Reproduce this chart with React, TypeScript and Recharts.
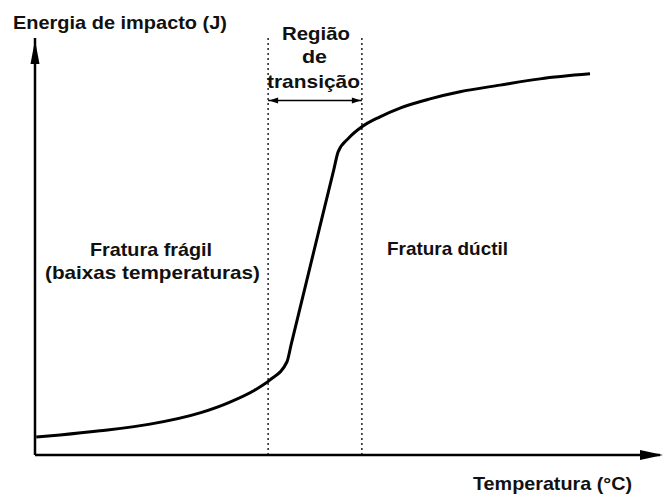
import React from 'react';
import { LineChart, Line, XAxis, YAxis, ReferenceLine, ReferenceDot } from 'recharts';

// Schematic ductile-brittle transition curve (arbitrary units 0-100)
const temperature = [0.2, 4, 10.4, 18.4, 26.4, 31.2, 35.2, 37.6, 40.3, 41.0, 44.4, 47.8, 48.5, 50.2, 52.3, 55.2, 58.4, 63.2, 68, 74.4, 80.8, 88.8];
const energy = [4.3, 4.8, 5.8, 7.4, 10.1, 12.7, 15.6, 18.0, 22.3, 26.6, 47.5, 68.4, 72.7, 76.0, 78.7, 81.1, 83.2, 85.4, 87.1, 88.7, 90.2, 91.4];
const transitionBounds = [37.3, 52.3];
const transitionArrowLevel = 85;
const yTitle = 'Energia de impacto (J)';
const xTitle = 'Temperatura (°C)';
const transitionLabel = ['Região', 'de', 'transição'];
const brittleLabel = ['Fratura frágil', '(baixas temperaturas)'];
const ductileLabel = 'Fratura dúctil';

const data = temperature.map((t, i) => ({ t, e: energy[i] }));

const UpArrow = (p: any) => (
  <path d={`M${p.cx},${p.cy + 2} L${p.cx - 4.5},${p.cy + 26} L${p.cx + 4.5},${p.cy + 26} Z`} fill="#000" />
);
const RightArrow = (p: any) => (
  <path d={`M${p.cx + 3},${p.cy} L${p.cx - 20},${p.cy - 5} L${p.cx - 20},${p.cy + 5} Z`} fill="#000" />
);
const SmallLeft = (p: any) => (
  <path d={`M${p.cx + 1},${p.cy} L${p.cx + 10},${p.cy - 3} L${p.cx + 10},${p.cy + 3} Z`} fill="#000" />
);
const SmallRight = (p: any) => (
  <path d={`M${p.cx - 1},${p.cy} L${p.cx - 10},${p.cy - 3} L${p.cx - 10},${p.cy + 3} Z`} fill="#000" />
);

const font = { fontFamily: '"Liberation Sans", Arial, sans-serif', fontWeight: 700, fontSize: 19, fill: '#111' };

export default function App() {
  return (
    <div style={{ position: 'absolute', left: 0, top: 0, width: 665, height: 495, background: '#fff' }}>
      <LineChart width={665} height={495} data={data} margin={{ top: 38, right: 5, bottom: 40, left: 35 }}>
        <XAxis dataKey="t" type="number" domain={[0, 100]} hide />
        <YAxis type="number" domain={[0, 100]} hide />
        <ReferenceLine x={transitionBounds[0]} stroke="#222" strokeWidth={1.5} strokeDasharray="2 3" />
        <ReferenceLine x={transitionBounds[1]} stroke="#222" strokeWidth={1.5} strokeDasharray="2 3" />
        <ReferenceLine
          segment={[{ x: transitionBounds[0], y: transitionArrowLevel }, { x: transitionBounds[1], y: transitionArrowLevel }]}
          stroke="#000"
          strokeWidth={1.5}
          ifOverflow="visible"
        />
        <ReferenceDot x={transitionBounds[0]} y={transitionArrowLevel} shape={SmallLeft} ifOverflow="visible" />
        <ReferenceDot x={transitionBounds[1]} y={transitionArrowLevel} shape={SmallRight} ifOverflow="visible" />
        <ReferenceLine y={0} stroke="#000" strokeWidth={2.5} ifOverflow="visible" />
        <ReferenceLine x={0} stroke="#000" strokeWidth={2.5} ifOverflow="visible" />
        <ReferenceDot x={0} y={100} shape={UpArrow} ifOverflow="visible" />
        <ReferenceDot x={100} y={0} shape={RightArrow} ifOverflow="visible" />
        <Line type="monotone" dataKey="e" stroke="#000" strokeWidth={3} dot={false} isAnimationActive={false} />
      </LineChart>
      <svg width={665} height={495} style={{ position: 'absolute', left: 0, top: 0, pointerEvents: 'none' }}>
        <text x={13} y={29} {...font} textLength={214} lengthAdjust="spacingAndGlyphs">{yTitle}</text>
        <text x={282} y={40} {...font} textLength={68} lengthAdjust="spacingAndGlyphs">{transitionLabel[0]}</text>
        <text x={302} y={63} {...font} textLength={25} lengthAdjust="spacingAndGlyphs">{transitionLabel[1]}</text>
        <text x={267} y={88} {...font} textLength={93} lengthAdjust="spacingAndGlyphs">{transitionLabel[2]}</text>
        <text x={90} y={256} {...font} textLength={122} lengthAdjust="spacingAndGlyphs">{brittleLabel[0]}</text>
        <text x={45} y={279} {...font} textLength={215} lengthAdjust="spacingAndGlyphs">{brittleLabel[1]}</text>
        <text x={387} y={255} {...font} textLength={121} lengthAdjust="spacingAndGlyphs">{ductileLabel}</text>
        <text x={473} y={490} {...font} textLength={159} lengthAdjust="spacingAndGlyphs">{xTitle}</text>
      </svg>
    </div>
  );
}
